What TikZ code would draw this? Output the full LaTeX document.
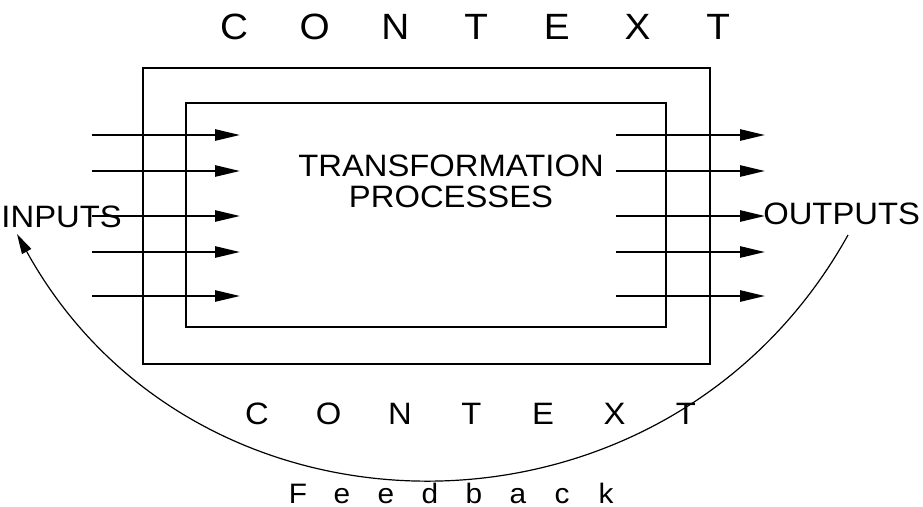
\documentclass[tikz,border=0pt]{standalone}
\usepackage{fontspec}
\setmainfont[FakeStretch=1.06]{Liberation Sans}
\usepackage{tikz}
\usetikzlibrary{arrows.meta,positioning}
\tikzset{
  frame/.style  = {rectangle, draw=black, line width=0.5mm, inner sep=0pt},
  lbl/.style    = {inner sep=0pt, font=\fontsize{22}{22}\selectfont},
  ctxbig/.style = {inner sep=0pt, anchor=base, font=\fontsize{26}{26}\selectfont},
  ctxsml/.style = {inner sep=0pt, anchor=base, font=\fontsize{22}{22}\selectfont},
  fbl/.style    = {inner sep=0pt, anchor=base, font=\fontsize{20}{20}\selectfont},
  fl/.style     = {-{Triangle[length=6.25mm,width=2.8mm]}, line width=0.5mm},
  fbarc/.style  = {-{Triangle[length=5mm,width=2.6mm]}, line width=0.3mm},
}

\begin{document}
\begin{tikzpicture}[x=0.25mm, y=-0.25mm]
  \useasboundingbox (0,0) rectangle (923,506);
  \node[frame, minimum width=141.75mm, minimum height=74mm] (context) at (426.5,216) {};
  \node[frame, minimum width=120mm, minimum height=56mm] (process) at (426,215) {};
  \coordinate (fbfrom) at (848,235);
  \coordinate (fbto) at (17,234);
  \draw[fbarc] (fbfrom) to[bend left=61, looseness=1.15] (fbto);
  \node[lbl, align=center] (transf) at (451,181.5) {TRANSFORMATION\\PROCESSES};
  \node[lbl, anchor=base east] (inputs) at (122,227) {INPUTS};
  \node[lbl, anchor=base west] (outputs) at (763,224) {OUTPUTS};
  \foreach \y [count=\i] in {135,171,216,252,296} {
    \coordinate (in\i) at (92,\y);   \coordinate (inT\i) at (240,\y);
    \coordinate (out\i) at (616,\y); \coordinate (outT\i) at (765,\y);
    \draw[fl] (in\i) -- (inT\i);
    \draw[fl] (out\i) -- (outT\i);
  }
  \foreach \ch [count=\i from 0] in {C,O,N,T,E,X,T}
    \node[ctxbig] (ctxtop\i) at (234+80.7*\i,39) {\ch};
  \foreach \ch [count=\i from 0] in {C,O,N,T,E,X,T}
    \node[ctxsml] (ctxbot\i) at (257+71.5*\i,424) {\ch};
  \foreach \ch [count=\i from 0] in {F,e,e,d,b,a,c,k}
    \node[fbl] (fb\i) at (298+44*\i,503) {\ch};
\end{tikzpicture}
\end{document}
